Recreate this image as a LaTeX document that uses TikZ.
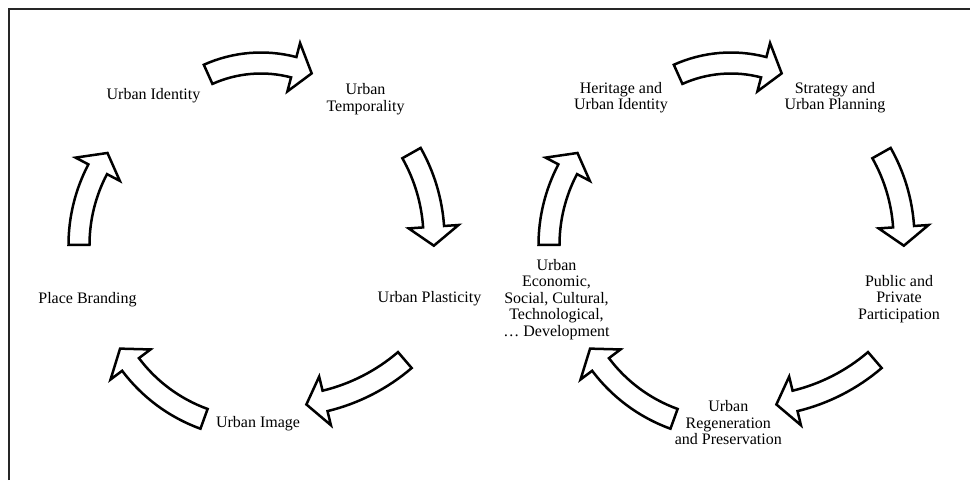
\documentclass[tikz,border=0pt]{standalone}
\usepackage{fontspec}
\setmainfont{Liberation Serif}
\newcommand{\cycarrow}[5]{% cx cy r a1 a2 (clockwise)
  \pgfmathsetmacro{\cRo}{#3+10.5}%
  \pgfmathsetmacro{\cRi}{#3-10.5}%
  \pgfmathsetmacro{\cHo}{#3+25}%
  \pgfmathsetmacro{\cHi}{#3-25}%
  \pgfmathsetmacro{\cAt}{#5-19/(#3)*180/pi}%
  \draw[blockarrow] ([shift={(#4:\cRo pt)}]#1,#2)
    arc[start angle=#4,end angle=#5,radius=\cRo pt]
    -- ([shift={(#5:\cHo pt)}]#1,#2)
    -- ([shift={(\cAt:#3 pt)}]#1,#2)
    -- ([shift={(#5:\cHi pt)}]#1,#2)
    -- ([shift={(#5:\cRi pt)}]#1,#2)
    arc[start angle=#5,end angle=#4,radius=\cRi pt] -- cycle;
}
\begin{document}
\begin{tikzpicture}[x=1pt,y=1pt,
  blockarrow/.style={draw=black,fill=white,line width=2.5pt,line join=miter,miter limit=4},
  lbl/.style={align=center,inner sep=0pt,font=\fontsize{16}{16.5}\selectfont},
  frameline/.style={draw=black!85,line width=1.3pt}]
\useasboundingbox (0,0) rectangle (970,480);
\coordinate (fa) at (9,0);
\coordinate (fb) at (9,471);
\coordinate (fc) at (970,471);
\draw[frameline] (fa) -- (fb) -- (fc);
% left cycle
\node[lbl] (ui) at (153.5,384) {Urban Identity};
\node[lbl] (ut) at (365.5,381) {Urban\\Temporality};
\node[lbl] (up) at (429.5,181) {Urban Plasticity};
\node[lbl] (uim) at (258,56) {Urban Image};
\node[lbl] (pb) at (87.5,180) {Place Branding};
% right cycle
\node[lbl] (hu) at (621,382.5) {Heritage and\\Urban Identity};
\node[lbl] (sp) at (835,382.5) {Strategy and\\Urban Planning};
\node[lbl] (ppp) at (899,181) {Public and\\Private\\Participation};
\node[lbl] (urp) at (728.3,57) {Urban\\Regeneration\\and Preservation};
\node[lbl] (ue) at (556.5,180.7) {Urban\\Economic,\\Social, Cultural,\\Technological,\\\dots\ Development};
\foreach \sx in {0,470}{
  \begin{scope}[xshift=\sx pt]
    \cycarrow{261}{288}{129}{114.2}{75.3}
    \cycarrow{260.5}{241.5}{173.5}{29.5}{3.9}
    \cycarrow{279.9}{265.7}{192}{-49.4}{-76.4}
    \cycarrow{258.5}{211.6}{160}{250.1}{216.9}
    \cycarrow{242}{235}{163}{180}{152.3}
  \end{scope}
}
\end{tikzpicture}
\end{document}
